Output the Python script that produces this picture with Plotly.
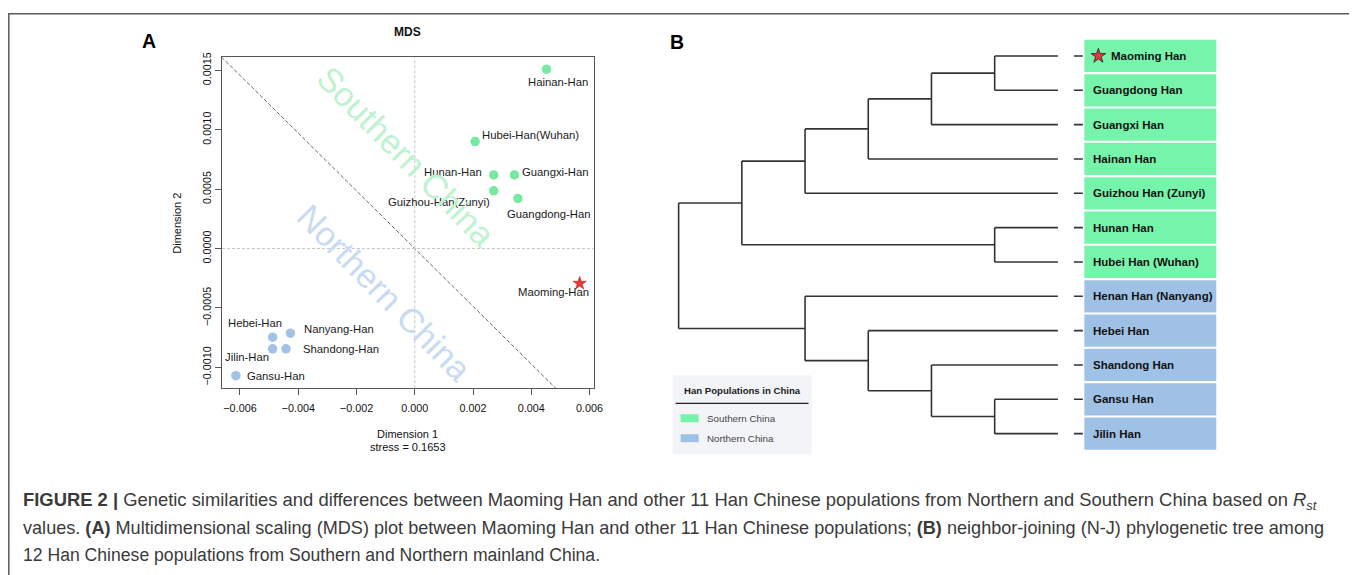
import plotly.graph_objects as go

# ---------------- DATA ----------------
# Panel A: MDS coordinates
populations = ["Hainan-Han", "Hubei-Han(Wuhan)", "Hunan-Han", "Guangxi-Han",
               "Guizhou-Han(Zunyi)", "Guangdong-Han", "Maoming-Han",
               "Hebei-Han", "Nanyang-Han", "Jilin-Han", "Shandong-Han", "Gansu-Han"]
dim1 = [0.00452, 0.00207, 0.00271, 0.00342, 0.00271, 0.00354, 0.00566,
        -0.00488, -0.00427, -0.00488, -0.00442, -0.00614]
dim2 = [0.00151, 0.00090, 0.00062, 0.00062, 0.000486, 0.000422, -0.000293,
        -0.000746, -0.000712, -0.000844, -0.000844, -0.00107]
mds_region = ["Southern", "Southern", "Southern", "Southern", "Southern", "Southern", "Target",
              "Northern", "Northern", "Northern", "Northern", "Northern"]
stress = 0.1653
diag_slope = -0.243
x_ticks = [-0.006, -0.004, -0.002, 0.0, 0.002, 0.004, 0.006]
y_ticks = [-0.0010, -0.0005, 0.0, 0.0005, 0.0010, 0.0015]

# Panel B: neighbour-joining tree topology (cladogram)
tree = (
    ((((("Maoming Han", "Guangdong Han"), "Guangxi Han"), "Hainan Han"), "Guizhou Han (Zunyi)"),
     ("Hunan Han", "Hubei Han (Wuhan)")),
    ("Henan Han (Nanyang)", ("Hebei Han", ("Shandong Han", ("Gansu Han", "Jilin Han"))))
)
southern_leaves = ["Maoming Han", "Guangdong Han", "Guangxi Han", "Hainan Han",
                   "Guizhou Han (Zunyi)", "Hunan Han", "Hubei Han (Wuhan)"]
northern_leaves = ["Henan Han (Nanyang)", "Hebei Han", "Shandong Han", "Gansu Han", "Jilin Han"]
target_leaf = "Maoming Han"

# ---------------- STYLE ----------------
FW, FH = 1357, 570
S, OX, OY = 0.994, 8.0, 12.7   # observed page scale and offset of the figure
FONT = "Liberation Sans, Arial, Helvetica, sans-serif"
GREEN = "#78e8a2"
BLUE = "#a3c2e6"
BOX_GREEN = "#77f4ab"
BOX_BLUE = "#a0c1e6"
STAR_RED = "#e8363a"


def px(x):
    return (x / S - OX) / FW


def py(y):
    return 1 - (y / S - OY) / FH


# label placement (anchor, xshift px, yshift px) for MDS labels
label_pos = {
    "Hainan-Han": ("center", 12, -13),
    "Hubei-Han(Wuhan)": ("left", 5, 7),
    "Hunan-Han": ("right", -10, 3),
    "Guangxi-Han": ("left", 6, 3),
    "Guizhou-Han(Zunyi)": ("right", -2, -11),
    "Guangdong-Han": ("center", 31, -16),
    "Maoming-Han": ("right", 11, -9),
    "Hebei-Han": ("right", 11, 14),
    "Nanyang-Han": ("left", 12, 4),
    "Jilin-Han": ("right", -2, -8),
    "Shandong-Han": ("left", 15, 0),
    "Gansu-Han": ("left", 9, 0),
}

fig = go.Figure()

# ---------- Panel A ----------
xr = [-0.00662, 0.00614]
yr = [-0.001176, 0.00161]

fig.add_trace(go.Scatter(x=[-0.01, 0.01], y=[-0.01 * diag_slope, 0.01 * diag_slope],
                         mode="lines", line=dict(color="#6a6a6a", width=1, dash="4px,2px"),
                         hoverinfo="skip", showlegend=False, xaxis="x", yaxis="y"))

for reg, col in (("Southern", GREEN), ("Northern", BLUE)):
    idx = [i for i, r in enumerate(mds_region) if r == reg]
    fig.add_trace(go.Scatter(x=[dim1[i] for i in idx], y=[dim2[i] for i in idx],
                             mode="markers", marker=dict(size=9.5, color=col),
                             showlegend=False, xaxis="x", yaxis="y"))
idx = [i for i, r in enumerate(mds_region) if r == "Target"]
fig.add_trace(go.Scatter(x=[dim1[i] for i in idx], y=[dim2[i] for i in idx],
                         mode="markers",
                         marker=dict(size=10, color=STAR_RED, symbol="star",
                                     line=dict(color="#b02020", width=0.6)),
                         showlegend=False, xaxis="x", yaxis="y"))


def ann(x, y, text, size, color="#111", xanchor="center", yanchor="middle", angle=0, **kw):
    d = dict(x=x, y=y, xref="paper", yref="paper", text=text, showarrow=False,
             xanchor=xanchor, yanchor=yanchor, textangle=angle,
             font=dict(family=FONT, size=size, color=color))
    d.update(kw)
    return d


annotations = []
for name, xv, yv in zip(populations, dim1, dim2):
    anc, xs, ys = label_pos[name]
    annotations.append(dict(x=xv, y=yv, xref="x", yref="y", text=name, showarrow=False,
                            xanchor=anc, yanchor="middle", xshift=xs, yshift=ys,
                            font=dict(family=FONT, size=11.3, color="#1a1a1a")))

annotations += [
    ann(px(406), py(156), "Southern China", 34, "#bdf3d0", angle=45.5),
    ann(px(385), py(293), "Northern China", 34, "#c8dbf2", angle=45.5),
    ann(px(408), py(32), "<b>MDS</b>", 12),
    ann(px(408), py(435), "Dimension 1", 11),
    ann(px(408), py(448), "stress = %.4f" % stress, 11),
    ann(px(177), py(223), "Dimension 2", 11, angle=-90),
    ann(px(149), py(41), "<b>A</b>", 19.5, "#000"),
    ann(px(677), py(42), "<b>B</b>", 19.5, "#000"),
]

shapes = [
    dict(type="line", xref="x", yref="y domain", x0=0, x1=0, y0=0, y1=1,
         line=dict(color="#c4c4c4", width=1, dash="3px,2px")),
    dict(type="line", xref="x domain", yref="y", x0=0, x1=1, y0=0, y1=0,
         line=dict(color="#c4c4c4", width=1, dash="3px,2px")),
]


# ---------- Panel B ----------
def height(node):
    if isinstance(node, str):
        return 0
    return 1 + max(height(c) for c in node)


def leaves(node):
    if isinstance(node, str):
        return [node]
    out = []
    for c in node:
        out += leaves(c)
    return out


leaf_order = leaves(tree)
max_h = height(tree)
leaf_y = {name: i for i, name in enumerate(leaf_order)}

lx, ly = [], []


def layout_node(node):
    if isinstance(node, str):
        return max_h, leaf_y[node]
    xn = max_h - height(node)
    child_pos = [layout_node(c) for c in node]
    ys = [p[1] for p in child_pos]
    for cx, cy in child_pos:
        lx.extend([xn, cx, None])
        ly.extend([cy, cy, None])
    lx.extend([xn, xn, None])
    ly.extend([min(ys), max(ys), None])
    return xn, sum(ys) / len(ys)


layout_node(tree)
fig.add_trace(go.Scatter(x=lx, y=ly, mode="lines", line=dict(color="#333333", width=1.6),
                         hoverinfo="skip", showlegend=False, xaxis="x2", yaxis="y2"))

T0, TU = 679.0, 63.25   # page px of root, px per level
L0, LU = 55.7, 34.43    # page px of first leaf, px per leaf


def tx(p):
    return (p - T0) / TU


def ty(p):
    return (p - L0) / LU


for name in leaf_order:
    yv = leaf_y[name]
    col = BOX_GREEN if name in southern_leaves else BOX_BLUE
    shapes.append(dict(type="rect", xref="x2", yref="y2", x0=tx(1085), x1=tx(1217),
                       y0=yv - 0.47, y1=yv + 0.47, fillcolor=col, line=dict(width=0),
                       layer="below"))
    shapes.append(dict(type="line", xref="x2", yref="y2", x0=tx(1074.5), x1=tx(1083.5),
                       y0=yv, y1=yv, line=dict(color="#333333", width=1.6)))
    lab_x = tx(1110) if name == target_leaf else tx(1092)
    annotations.append(dict(x=lab_x, y=yv, xref="x2", yref="y2", text="<b>%s</b>" % name,
                            showarrow=False, xanchor="left", yanchor="middle",
                            font=dict(family=FONT, size=11.5, color="#111")))

fig.add_trace(go.Scatter(x=[tx(1099)], y=[leaf_y[target_leaf]], mode="markers",
                         marker=dict(symbol="star", size=11, color=STAR_RED,
                                     line=dict(color="#222", width=0.8)),
                         showlegend=False, xaxis="x2", yaxis="y2"))

# legend box + outer frame
shapes += [
    dict(type="rect", xref="paper", yref="paper", x0=px(673), x1=px(812), y0=py(455), y1=py(376),
         fillcolor="#f3f4f8", line=dict(width=0), layer="below"),
    dict(type="line", xref="paper", yref="paper", x0=px(676), x1=px(809), y0=py(404), y1=py(404),
         line=dict(color="#222", width=1.3)),
    dict(type="rect", xref="paper", yref="paper", x0=px(681), x1=px(699), y0=py(423), y1=py(415),
         fillcolor=BOX_GREEN, line=dict(width=0)),
    dict(type="rect", xref="paper", yref="paper", x0=px(681), x1=px(699), y0=py(443), y1=py(435),
         fillcolor=BOX_BLUE, line=dict(width=0)),
    dict(type="rect", xref="paper", yref="paper", x0=max(px(8), 0.0006), x1=px(1352),
         y0=-0.1, y1=0.9987, line=dict(color="#5a5a5a", width=1.5)),
]
annotations += [
    ann(px(743), py(391), "<b>Han Populations in China</b>", 9.6, "#222"),
    ann(px(705), py(419), "Southern China", 9.8, "#444", xanchor="left"),
    ann(px(705), py(439), "Northern China", 9.8, "#444", xanchor="left"),
]

caption_lines = [
    "<b>FIGURE 2 |</b> Genetic similarities and differences between Maoming Han and other 11 Han "
    "Chinese populations from Northern and Southern China based on <i>R<sub>st</sub></i>",
    "values. <b>(A)</b> Multidimensional scaling (MDS) plot between Maoming Han and other 11 Han "
    "Chinese populations; <b>(B)</b> neighbor-joining (N-J) phylogenetic tree among",
    "12 Han Chinese populations from Southern and Northern mainland China.",
]
caption_sizes = [18.4, 18.1, 17.6]
for i, line in enumerate(caption_lines):
    annotations.append(ann(px(21), py(502 + 27 * i), line, caption_sizes[i], "#3a3a3a",
                           xanchor="left"))

fig.update_layout(
    width=FW, height=FH, margin=dict(l=0, r=0, t=0, b=0),
    paper_bgcolor="white", plot_bgcolor="white",
    font=dict(family=FONT),
    xaxis=dict(domain=[px(222), px(594)], range=xr, anchor="y", showgrid=False, zeroline=False,
               tickvals=x_ticks, tickformat=".3f", ticks="outside", ticklen=6,
               tickcolor="#555", showline=True, linecolor="#555", linewidth=1, mirror=True,
               tickfont=dict(family=FONT, size=10.8, color="#111"), ticklabelstandoff=4),
    yaxis=dict(domain=[py(389), py(57)], range=yr, anchor="x", showgrid=False, zeroline=False,
               tickvals=y_ticks, tickformat=".4f", ticks="outside", ticklen=6, tickangle=-90,
               tickcolor="#555", showline=True, linecolor="#555", linewidth=1, mirror=True,
               tickfont=dict(family=FONT, size=10.8, color="#111")),
    xaxis2=dict(domain=[px(660), px(1230)], range=[tx(660), tx(1230)], anchor="y2",
                visible=False),
    yaxis2=dict(domain=[py(460), py(30)], range=[ty(460), ty(30)], anchor="x2", visible=False),
    shapes=shapes, annotations=annotations,
)

fig.write_html("out.html")
